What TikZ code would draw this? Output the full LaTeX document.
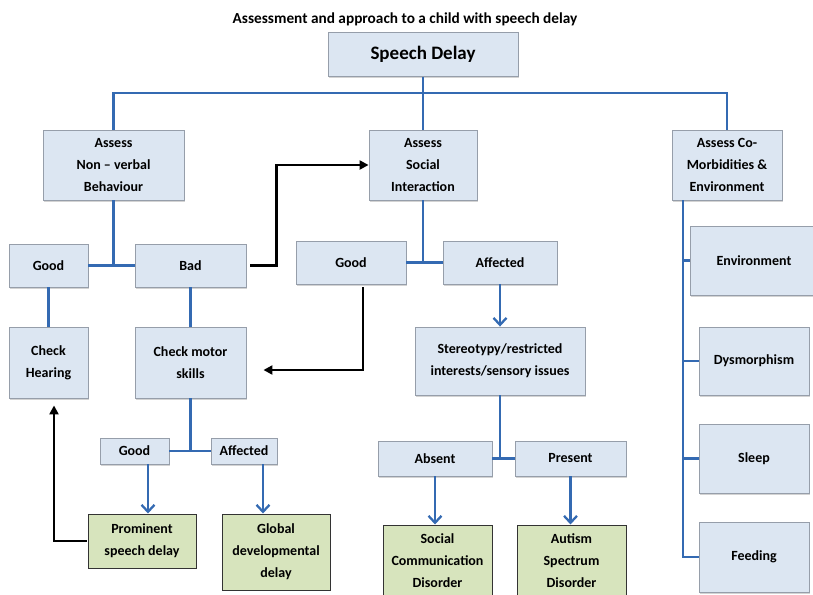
\documentclass[tikz,border=0pt]{standalone}
\usepackage{fontspec}
\setmainfont{Carlito}
\usepackage{tikz}
\usetikzlibrary{arrows.meta, shadows}

\definecolor{boxfill}{RGB}{220,230,242}
\definecolor{boxline}{RGB}{150,158,170}
\definecolor{endfill}{RGB}{215,228,189}
\definecolor{linkblue}{RGB}{52,106,178}

\begin{document}
\begin{tikzpicture}[x=1pt, y=-1pt,
            boxsize/.style 2 args = {minimum width=#1pt, minimum height=#2pt},
            main/.style = {draw=boxline, fill=boxfill, line width=0.9pt, align=center, inner sep=0pt,
                font=\bfseries\fontsize{14}{22}\selectfont,
                drop shadow={shadow xshift=1.2pt, shadow yshift=-1.6pt, opacity=0.35}},
            result/.style = {draw=black!80, fill=endfill, line width=1pt, align=center, inner sep=0pt,
                font=\bfseries\fontsize{14}{22}\selectfont},
            link/.style = {draw=linkblue, line width=2.3pt},
            flow/.style = {link, -{Straight Barb[length=7pt, width=13pt]}},
            jump/.style = {draw=black, line width=2.6pt, -{Triangle[length=9pt, width=9pt]}}]
            \useasboundingbox (0,0) rectangle (813,594);
            \clip (0,0) rectangle (813,594);

            \node[font=\bfseries\fontsize{15.3}{18}\selectfont] (title) at (405,19) {Assessment and approach to a child with speech delay};
            \node[main, boxsize={190}{44}, font=\bfseries\fontsize{19}{23}\selectfont] (speech) at (423,54.5) {Speech Delay};

            \node[main, boxsize={141}{70}] (nonverbal) at (113.5,165) {Assess\\Non – verbal\\Behaviour};
            \node[main, boxsize={108}{70}] (social) at (423,165) {Assess\\Social\\Interaction};
            \node[main, boxsize={110}{70}] (comorb) at (727,165) {Assess Co-\\Morbidities \&\\Environment};

            \node[main, boxsize={79}{43}] (good1) at (48.5,265.5) {Good};
            \node[main, boxsize={111}{43}] (bad) at (190.5,265.5) {Bad};
            \node[main, boxsize={79}{71}] (hearing) at (48.5,362.5) {Check\\Hearing};
            \node[main, boxsize={111}{71}] (motor) at (190.5,362.5) {Check motor\\skills};
            \node[main, boxsize={69}{26}] (good3) at (134.5,451) {Good};
            \node[main, boxsize={66}{26}] (affected2) at (244,451) {Affected};
            \node[result, boxsize={108}{54}] (prominent) at (142,541) {Prominent\\speech delay};
            \node[result, boxsize={108}{76}] (global) at (276,552) {Global\\developmental\\delay};

            \node[main, boxsize={110}{43}] (good2) at (351,262.5) {Good};
            \node[main, boxsize={114}{43}] (affected1) at (500,262.5) {Affected};
            \node[main, boxsize={170}{68}] (stereo) at (500,361) {Stereotypy/restricted\\interests/sensory issues};
            \node[main, boxsize={114}{35}] (absent) at (435,458.5) {Absent};
            \node[main, boxsize={111}{35}] (present) at (570.5,458.5) {Present};
            \node[result, boxsize={109}{72}] (scd) at (437.5,561) {Social\\Communication\\Disorder};
            \node[result, boxsize={109}{72}] (asd) at (571.5,561) {Autism\\Spectrum\\Disorder};

            \node[main, boxsize={128}{69}] (env) at (754,260.5) {Environment};
            \node[main, boxsize={110}{68}] (dysm) at (754,361) {Dysmorphism};
            \node[main, boxsize={110}{69}] (sleep) at (754,458.5) {Sleep};
            \node[main, boxsize={110}{70}] (feeding) at (754,557) {Feeding};

            \coordinate (bus) at (423,93);
            \coordinate (rail) at (683,200);

            \draw[link] (speech) -- (bus);
            \draw[link] (nonverbal.north) |- (bus) -| (comorb.north);
            \draw[link] (bus) -- (social);

            \draw[link] (nonverbal) -- (nonverbal |- good1);
            \path[link] (good1) edge (bad);
            \path[link] (good1) edge (hearing);
            \path[link] (bad) edge (motor);
            \draw[link] (motor) -- (motor |- good3);
            \path[link] (good3) edge (affected2);
            \draw[flow] ([xshift=13.5pt]good3.south) -- ([xshift=13.5pt]good3.south |- prominent.north);
            \draw[flow] ([xshift=19pt]affected2.south) -- ([xshift=19pt]affected2.south |- global.north);

            \draw[link] (social) -- (social |- good2);
            \path[link] (good2) edge (affected1);
            \draw[flow] (affected1) -- (stereo);
            \draw[link] (stereo) -- (stereo |- absent);
            \path[link] (absent) edge (present);
            \draw[flow] (absent.south) -- (absent.south |- scd.north);
            \draw[flow] (present.south) -- (present.south |- asd.north);

            \draw[link] (rail) |- (feeding.west);
            \foreach \n in {env, dysm, sleep}
                \draw[link] (rail |- \n) -- (\n.west);

            \draw[jump] ([xshift=4pt]bad.east) -- ++(26,0) |- (social.west);
            \draw[jump] ([xshift=12pt, yshift=-3pt]good2.south) |- ([xshift=17pt, yshift=-7.5pt]motor.east);
            \draw[jump] ([xshift=-1pt]prominent.west) -| ([xshift=5.5pt, yshift=-7pt]hearing.south);
\end{tikzpicture}
\end{document}
